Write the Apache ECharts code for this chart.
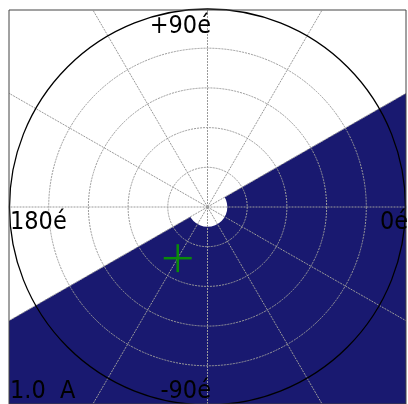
<!DOCTYPE html>
<html>
<head>
<meta charset="utf-8">
<script src="https://cdn.jsdelivr.net/npm/echarts@6/dist/echarts.min.js"></script>
<style>
  html, body { margin: 0; padding: 0; background: #fff; }
  #chart { width: 408px; height: 404px; }
</style>
</head>
<body>
<div id="chart"></div>
<script>
// Polar diagram drawn on a square cartesian frame spanning -1..1 on both axes.
const gridRings = [0.2, 0.4, 0.6, 0.8];      // dotted range rings
const outerRing = 1.0;                       // solid outer ring (full scale)
const spokeAngles = [0, 30, 60, 90, 120, 150, 180, 210, 240, 270, 300, 330]; // degrees
const shadeBoundaryDeg = 30;                 // shaded half-plane lies below this line through the origin
const holeRadius = 0.1;                      // clear disc at the origin
const markerPoint = [0.3, -120];             // [radius, angle in degrees]
const angleLabels = ['0é', '+90é', '180é', '-90é'];
const scaleLabel = '1.0  A';

const FONT = '"DejaVu Sans Condensed", "DejaVu Sans", sans-serif';
const NAVY = '#191970';
const GRID = '#9a9a9a';
const rad = d => d * Math.PI / 180;

const chart = echarts.init(document.getElementById('chart'), null, { renderer: 'canvas' });

function pxRadius(api, r) {
  return api.coord([r, 0])[0] - api.coord([0, 0])[0];
}

const option = {
  animation: false,
  backgroundColor: '#fff',
  grid: { left: 9, top: 10, width: 397, height: 397, show: true, borderColor: '#444', borderWidth: 1, backgroundColor: 'transparent', z: 10 },
  xAxis: { type: 'value', min: -1, max: 1, show: false },
  yAxis: { type: 'value', min: -1, max: 1, show: false },
  series: [
    {
      // shaded half-plane with a clear disc at the origin
      type: 'custom',
      z: 1,
      silent: true,
      data: [[0, 0]],
      renderItem(params, api) {
        const t = Math.tan(rad(shadeBoundaryDeg));
        const pts = [[1, t], [-1, -t], [-1, -1], [1, -1]].map(p => api.coord(p));
        const c = api.coord([0, 0]);
        return {
          type: 'group',
          children: [
            { type: 'polygon', shape: { points: pts }, style: { fill: NAVY } },
            { type: 'circle', shape: { cx: c[0], cy: c[1], r: pxRadius(api, holeRadius) }, style: { fill: '#fff' } }
          ]
        };
      }
    },
    {
      // spokes running from the origin out to the frame
      type: 'custom',
      z: 2,
      silent: true,
      data: spokeAngles.map(a => [a]),
      renderItem(params, api) {
        const a = rad(api.value(0));
        const cs = Math.cos(a), sn = Math.sin(a);
        const k = 1 / Math.max(Math.abs(cs), Math.abs(sn));
        const p0 = api.coord([0, 0]);
        const p1 = api.coord([cs * k, sn * k]);
        return {
          type: 'line',
          shape: { x1: p0[0], y1: p0[1], x2: p1[0], y2: p1[1] },
          style: { stroke: GRID, lineWidth: 1, lineDash: [2, 1] }
        };
      }
    },
    {
      // range rings
      type: 'custom',
      z: 2,
      silent: true,
      data: gridRings.map(r => [r]),
      renderItem(params, api) {
        const c = api.coord([0, 0]);
        return {
          type: 'circle',
          shape: { cx: c[0], cy: c[1], r: pxRadius(api, api.value(0)) },
          style: { fill: 'none', stroke: GRID, lineWidth: 1, lineDash: [2, 1] }
        };
      }
    },
    {
      // outer ring
      type: 'custom',
      z: 3,
      silent: true,
      data: [[outerRing]],
      renderItem(params, api) {
        const c = api.coord([0, 0]);
        return {
          type: 'circle',
          shape: { cx: c[0], cy: c[1], r: pxRadius(api, api.value(0)) - 0.5 },
          style: { fill: 'none', stroke: '#000', lineWidth: 1.3 }
        };
      }
    },
    {
      // measured point, drawn as a cross
      type: 'custom',
      z: 4,
      silent: true,
      data: [markerPoint],
      renderItem(params, api) {
        const r = api.value(0), a = rad(api.value(1));
        const p = api.coord([r * Math.cos(a), r * Math.sin(a)]);
        const h = 14;
        const st = { stroke: '#0a8a0a', lineWidth: 2.5 };
        return {
          type: 'group',
          children: [
            { type: 'line', shape: { x1: p[0] - h, y1: p[1], x2: p[0] + h, y2: p[1] }, style: st },
            { type: 'line', shape: { x1: p[0], y1: p[1] - h, x2: p[0], y2: p[1] + h }, style: st }
          ]
        };
      }
    }
  ],
  graphic: [
    { type: 'text', z: 100, style: { text: angleLabels[1], x: 211, y: 14, textAlign: 'right', textVerticalAlign: 'top', font: '25px ' + FONT, fill: '#000' } },
    { type: 'text', z: 100, style: { text: angleLabels[2], x: 10, y: 210, textAlign: 'left', textVerticalAlign: 'top', font: '25px ' + FONT, fill: '#000' } },
    { type: 'text', z: 100, style: { text: angleLabels[0], x: 380, y: 210, textAlign: 'left', textVerticalAlign: 'top', font: '25px ' + FONT, fill: '#000' } },
    { type: 'text', z: 100, style: { text: angleLabels[3], x: 211, y: 379, textAlign: 'right', textVerticalAlign: 'top', font: '25px ' + FONT, fill: '#000' } },
    { type: 'text', z: 100, style: { text: scaleLabel, x: 10, y: 379, textAlign: 'left', textVerticalAlign: 'top', font: '25px ' + FONT, fill: '#000' } }
  ]
};

chart.setOption(option);
</script>
</body>
</html>
